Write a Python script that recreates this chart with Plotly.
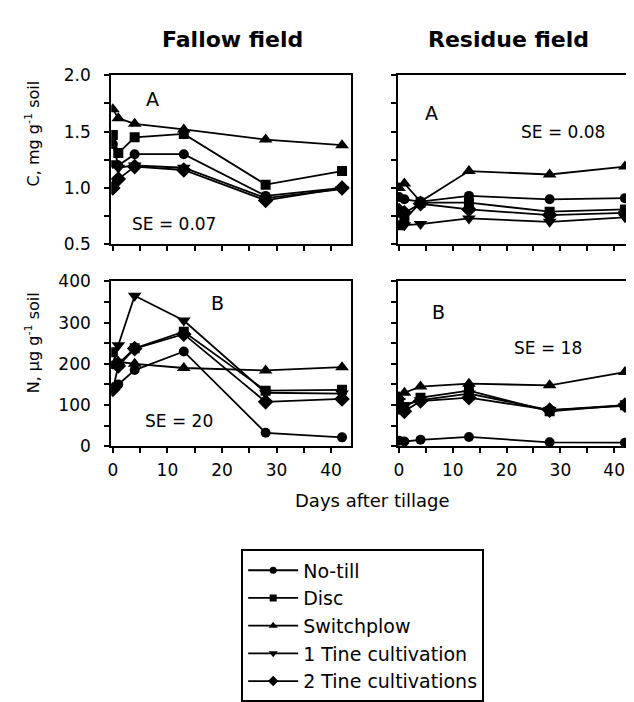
import plotly.graph_objects as go
from plotly.subplots import make_subplots

W, H = 634, 702
FONT = "DejaVu Sans, Verdana, sans-serif"

days = [0, 1, 4, 13, 28, 42]
series_names = ["No-till", "Disc", "Switchplow", "1 Tine cultivation", "2 Tine cultivations"]
symbols = ["circle", "square", "triangle-up", "triangle-down", "diamond"]
sizes = [10, 10, 12, 12, 12]
legend_sizes = [7, 7, 8, 8, 8]

fallow_C_notill = [1.39, 1.20, 1.30, 1.30, 0.93, 1.00]
fallow_C_disc = [1.47, 1.31, 1.45, 1.48, 1.03, 1.15]
fallow_C_switch = [1.70, 1.62, 1.57, 1.52, 1.43, 1.38]
fallow_C_tine1 = [1.22, 1.18, 1.20, 1.18, 0.91, 0.99]
fallow_C_tine2 = [1.00, 1.08, 1.19, 1.16, 0.89, 1.00]

residue_C_notill = [0.92, 0.90, 0.88, 0.93, 0.90, 0.91]
residue_C_disc = [0.67, 0.72, 0.87, 0.87, 0.79, 0.81]
residue_C_switch = [1.00, 1.04, 0.88, 1.15, 1.12, 1.19]
residue_C_tine1 = [0.68, 0.67, 0.68, 0.73, 0.70, 0.74]
residue_C_tine2 = [0.80, 0.78, 0.86, 0.81, 0.76, 0.78]

fallow_N_notill = [140, 150, 185, 230, 33, 22]
fallow_N_disc = [228, 200, 238, 278, 135, 137]
fallow_N_switch = [195, 205, 200, 190, 184, 192]
fallow_N_tine1 = [200, 245, 365, 305, 130, 128]
fallow_N_tine2 = [138, 195, 237, 272, 108, 115]

residue_N_notill = [14, 12, 16, 23, 10, 9]
residue_N_disc = [105, 95, 118, 135, 85, 100]
residue_N_switch = [120, 130, 145, 152, 148, 180]
residue_N_tine1 = [110, 100, 112, 128, 88, 98]
residue_N_tine2 = [95, 85, 110, 118, 88, 100]

x_tickvals = [0, 5, 10, 15, 20, 25, 30, 35, 40]
x_ticktext = ["0", "", "10", "", "20", "", "30", "", "40"]
c_tickvals = [0.5, 0.75, 1.0, 1.25, 1.5, 1.75, 2.0]
c_ticktext = ["0.5", "", "1.0", "", "1.5", "", "2.0"]
n_tickvals = [0, 50, 100, 150, 200, 250, 300, 350, 400]
n_ticktext = ["0", "", "100", "", "200", "", "300", "", "400"]

panels = {
    (1, 1): [fallow_C_notill, fallow_C_disc, fallow_C_switch, fallow_C_tine1, fallow_C_tine2],
    (1, 2): [residue_C_notill, residue_C_disc, residue_C_switch, residue_C_tine1, residue_C_tine2],
    (2, 1): [fallow_N_notill, fallow_N_disc, fallow_N_switch, fallow_N_tine1, fallow_N_tine2],
    (2, 2): [residue_N_notill, residue_N_disc, residue_N_switch, residue_N_tine1, residue_N_tine2],
}

fig = make_subplots(rows=2, cols=2)

for (r, c), data in panels.items():
    for i, vals in enumerate(data):
        fig.add_trace(go.Scatter(
            x=days, y=vals, mode="lines+markers", name=series_names[i],
            line=dict(color="black", width=1.8),
            marker=dict(symbol=symbols[i], size=sizes[i], color="black"),
            showlegend=False,
        ), row=r, col=c)

# legend-only entries (smaller markers, as in the reference legend)
for i, name in enumerate(series_names):
    fig.add_trace(go.Scatter(
        x=[None], y=[None], mode="lines+markers", name=name,
        line=dict(color="black", width=1.8),
        marker=dict(symbol=symbols[i], size=legend_sizes[i], color="black"),
        showlegend=True,
    ), row=1, col=1)

def px_x(p):
    return p / W

def px_y(p):
    return 1 - p / H

common_axis = dict(showline=True, linecolor="black", linewidth=2, mirror=True,
                   ticks="outside", ticklen=5, tickwidth=2, tickcolor="black",
                   showgrid=False, zeroline=False,
                   tickfont=dict(family=FONT, size=17, color="black"))

left_dom = [px_x(100), px_x(342)]
right_dom = [px_x(389), px_x(633)]
for r in (1, 2):
    fig.update_xaxes(domain=left_dom, range=[-0.3, 43.7], tickvals=x_tickvals,
                     ticktext=x_ticktext if r == 2 else [""] * 9,
                     ticklabelstandoff=2, row=r, col=1, **common_axis)
    fig.update_xaxes(domain=right_dom, range=[-0.2, 44.8], tickvals=x_tickvals,
                     ticktext=x_ticktext if r == 2 else [""] * 9,
                     ticklabelstandoff=2, row=r, col=2, **common_axis)

top_dom = [px_y(233), px_y(59)]
bot_dom = [px_y(441), px_y(271)]
fig.update_yaxes(domain=top_dom, range=[0.5, 2.0], tickvals=c_tickvals, ticktext=c_ticktext,
                 ticklabelstandoff=10, row=1, col=1, **common_axis)
fig.update_yaxes(domain=top_dom, range=[0.5, 2.0], tickvals=c_tickvals, ticktext=[""] * 7,
                 row=1, col=2, **common_axis)
fig.update_yaxes(domain=bot_dom, range=[0, 400], tickvals=n_tickvals, ticktext=n_ticktext,
                 ticklabelstandoff=10, row=2, col=1, **common_axis)
fig.update_yaxes(domain=bot_dom, range=[0, 400], tickvals=n_tickvals, ticktext=[""] * 9,
                 row=2, col=2, **common_axis)

def ann(text, x, y, size, bold=False, angle=0):
    fig.add_annotation(text=("<b>%s</b>" % text) if bold else text,
                       x=px_x(x), y=px_y(y), xref="paper", yref="paper",
                       showarrow=False, textangle=angle,
                       font=dict(family=FONT, size=size, color="black"),
                       xanchor="center", yanchor="middle")

ann("Fallow field", 222, 22, 22, bold=True)
ann("Residue field", 500, 22, 22, bold=True)
ann("A", 142, 83, 19)
ann("SE = 0.07", 163, 212, 17)
ann("A", 423, 98, 19)
ann("SE = 0.08", 555, 117, 17)
ann("B", 207, 293, 19)
ann("SE = 20", 168, 415, 17)
ann("B", 430, 303, 19)
ann("SE = 18", 540, 340, 17)
ann("Days after tillage", 363, 497, 18)
ann("C, mg g<sup>-1</sup> soil", 21, 119, 16, angle=-90)
ann("N, µg g<sup>-1</sup> soil", 21, 334, 16, angle=-90)

fig.update_layout(
    width=W, height=H, margin=dict(l=0, r=0, t=0, b=0),
    paper_bgcolor="white", plot_bgcolor="white",
    showlegend=True,
    legend=dict(x=px_x(231), y=px_y(547), xanchor="left", yanchor="top",
                bordercolor="black", borderwidth=2, bgcolor="white",
                font=dict(family=FONT, size=19, color="black"),
                tracegroupgap=0, itemwidth=50),
)

fig.write_html("out.html")
